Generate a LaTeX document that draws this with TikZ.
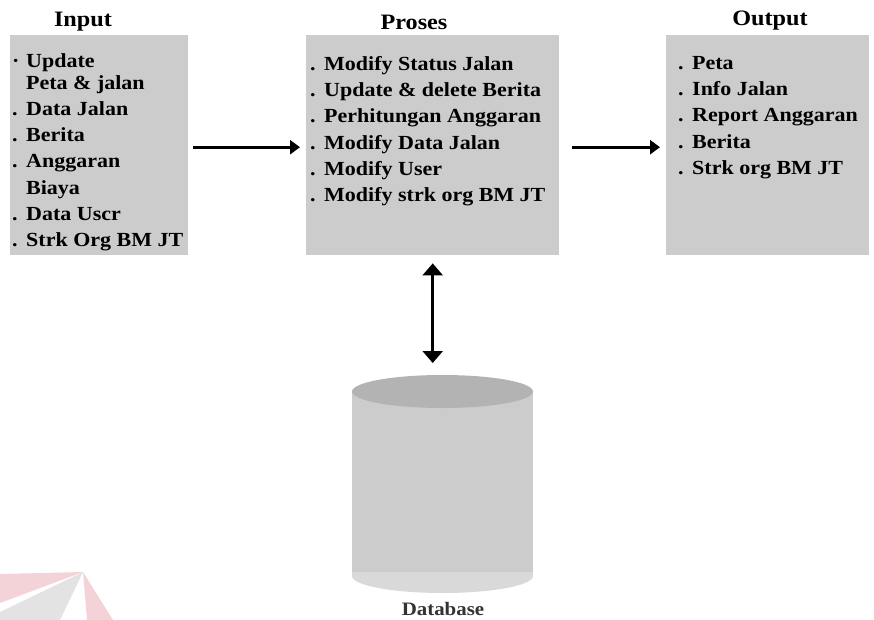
\documentclass[tikz,border=0pt]{standalone}
\usepackage{fontspec}
\setmainfont{Liberation Serif}[FakeStretch=1.1]
\usetikzlibrary{arrows.meta}
\definecolor{boxgray}{HTML}{CCCCCC}
\definecolor{dbbody}{HTML}{CCCCCC}
\definecolor{dbtopc}{HTML}{B3B3B3}
\definecolor{dblight}{HTML}{D9D9D9}
\definecolor{dbtext}{HTML}{333333}
\definecolor{wmpink}{HTML}{F3D3D8}
\definecolor{wmgrey}{HTML}{E3E3E3}
\newcommand{\itm}[1]{\makebox[14pt][l]{#1}}
\begin{document}
\begin{tikzpicture}[x=1pt,y=-1pt,
  panel/.style={fill=boxgray, draw=none, inner sep=0pt, anchor=north west},
  items/.style={anchor=north west, inner sep=0pt, align=left,
    font=\bfseries\fontsize{20}{26.3}\selectfont},
  heading/.style={font=\bfseries\fontsize{22}{26}\selectfont},
  dblabel/.style={font=\bfseries\fontsize{19}{22}\selectfont, text=dbtext},
  flow/.style={line width=3pt, -{Triangle[length=10pt,width=14pt]}},
  dflow/.style={line width=2.5pt, {Triangle[length=12pt,width=20pt]}-{Triangle[length=12pt,width=20pt]}}]
\useasboundingbox (0,0) rectangle (874,620);
\fill[white] (0,0) rectangle (874,620);

% watermark fragment
\fill[wmpink] (0,574) -- (83,572) -- (0,603) -- cycle;
\fill[wmgrey] (83,572) -- (0,612) -- (0,620) -- (60,620) -- cycle;
\fill[wmpink] (83,572) -- (87,620) -- (113,620) -- cycle;

% panels
\node[panel, minimum width=178pt, minimum height=220pt] (inbox) at (10,35) {};
\node[panel, minimum width=253pt, minimum height=220pt] (procbox) at (306,35) {};
\node[panel, minimum width=203pt, minimum height=220pt] (outbox) at (666,35) {};

% headings
\node[heading] (tin) at (83,22) {Input};
\node[heading] (tproc) at (414,22) {Proses};
\node[heading] (tout) at (770,21) {Output};

% texts
\node[items] (intext) at (12,53) {%
\itm{·}Update\\[-4.3pt]
\hspace*{14pt}Peta \& jalan\\
\itm{.}Data Jalan\\
\itm{.}Berita\\
\itm{.}Anggaran\\
\hspace*{14pt}Biaya\\
\itm{.}Data Uscr\\
\itm{.}Strk Org BM JT};

\node[items] (proctext) at (310,56) {%
\itm{.}Modify Status Jalan\\
\itm{.}Update \& delete Berita\\
\itm{.}Perhitungan Anggaran\\
\itm{.}Modify Data Jalan\\
\itm{.}Modify User\\
\itm{.}Modify strk org BM JT};

\node[items] (outtext) at (678,56) {%
\itm{.}Peta\\
\itm{.}Info Jalan\\
\itm{.}Report Anggaran\\
\itm{.}Berita\\
\itm{.}Strk org BM JT};

% database cylinder
\fill[dblight] (442.5,576) ellipse [x radius=90.5, y radius=17];
\fill[dblight] (352,571) rectangle (533,576);
\fill[dbbody] (352,391.5) rectangle (533,572);
\fill[dbtopc] (442.5,391.5) ellipse [x radius=90.5, y radius=16.5];
\coordinate (dbtop) at (442.5,375);
\node[dblabel] (dbname) at (443,609) {Database};

% connectors
\draw[flow, shorten <=5pt, shorten >=6pt] ([yshift=-2pt]inbox.east) -- ([yshift=-2pt]procbox.west);
\draw[flow, shorten <=13pt, shorten >=6pt] ([yshift=-2pt]procbox.east) -- ([yshift=-2pt]outbox.west);
\draw[dflow, shorten <=8pt, shorten >=12pt] (procbox.south) -- (procbox.south |- dbtop);
\end{tikzpicture}
\end{document}
